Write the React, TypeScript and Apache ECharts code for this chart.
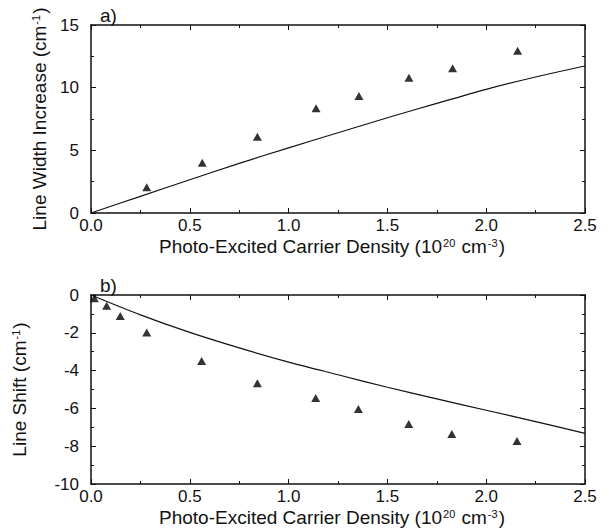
import React, { useEffect, useRef } from "react";
import * as echarts from "echarts";

// ---- Data ----
const xTickLabels = ["0.0", "0.5", "1.0", "1.5", "2.0", "2.5"];

// Panel a) Line width increase
const widthMeasX = [0.282, 0.563, 0.842, 1.139, 1.356, 1.609, 1.83, 2.159];
const widthMeasY = [2.05, 4.01, 6.09, 8.35, 9.34, 10.8, 11.55, 12.95];
const widthFitX = [0, 0.25, 0.5, 0.75, 1.0, 1.25, 1.5, 1.75, 2.0, 2.25, 2.5];
const widthFitY = [0, 1.33, 2.65, 3.96, 5.2, 6.4, 7.6, 8.75, 9.87, 10.85, 11.73];

// Panel b) Line shift
const shiftMeasX = [0.017, 0.079, 0.148, 0.282, 0.56, 0.842, 1.137, 1.353, 1.608, 1.826, 2.156];
const shiftMeasY = [-0.17, -0.57, -1.11, -1.98, -3.49, -4.67, -5.45, -6.03, -6.83, -7.35, -7.72];
const shiftFitX = [0, 0.25, 0.5, 0.75, 1.0, 1.25, 1.5, 1.75, 2.0, 2.25, 2.5];
const shiftFitY = [0, -1.05, -1.98, -2.8, -3.55, -4.22, -4.88, -5.5, -6.1, -6.7, -7.32];

const FONT = "'Liberation Sans', Arial, Helvetica, sans-serif";
const INK = "#111";

const pairs = (xs: number[], ys: number[]) => xs.map((x, i) => [x, ys[i]]);

const xTitle = "Photo-Excited Carrier Density (10{sup|20} cm{sup|-3})";

function titleStyle(padding: number[] = [0, 0, 0, 0]) {
  return {
    fontSize: 19,
    color: INK,
    fontFamily: FONT,
    padding,
    rich: {
      sup: { fontSize: 11, color: INK, fontFamily: FONT, verticalAlign: "top", padding: [0, 1, 0, 1] },
    },
  };
}

function xAxes(gridIndex: number) {
  const common = {
    type: "value",
    gridIndex,
    min: 0,
    max: 2.5,
    interval: 0.5,
    splitLine: { show: false },
    axisLine: { show: true, onZero: false, lineStyle: { color: INK, width: 1.5 } },
    axisTick: { show: true, inside: true, length: 5, lineStyle: { color: INK, width: 1 } },
    minorTick: { show: true, splitNumber: 2, length: 3, lineStyle: { color: INK, width: 1 } },
  };
  return [
    {
      ...common,
      position: "bottom",
      name: xTitle,
      nameLocation: "middle",
      nameGap: 24,
      nameTextStyle: titleStyle([0, 12, 0, 0]),
      axisLabel: {
        show: true,
        margin: 4,
        fontSize: 17,
        color: INK,
        fontFamily: FONT,
        formatter: (v: number) => xTickLabels[Math.round(v / 0.5)] ?? v.toFixed(1),
      },
    },
    { ...common, position: "top", axisLabel: { show: false } },
  ];
}

function yAxes(gridIndex: number, min: number, max: number, interval: number, name: string, nameGap: number) {
  const common = {
    type: "value",
    gridIndex,
    min,
    max,
    interval,
    splitLine: { show: false },
    axisLine: { show: true, onZero: false, lineStyle: { color: INK, width: 1.5 } },
    axisTick: { show: true, inside: true, length: 5, lineStyle: { color: INK, width: 1 } },
    minorTick: { show: true, splitNumber: 2, length: 3, lineStyle: { color: INK, width: 1 } },
  };
  return [
    {
      ...common,
      position: "left",
      name,
      nameLocation: "middle",
      nameGap,
      nameRotate: 90,
      nameTextStyle: titleStyle(),
      axisLabel: { show: true, margin: 12, fontSize: 17, color: INK, fontFamily: FONT },
    },
    { ...common, position: "right", axisLabel: { show: false } },
  ];
}

export default function App() {
  const ref = useRef<HTMLDivElement>(null);
  useEffect(() => {
    if (!ref.current) return;
    const chart = echarts.init(ref.current, null, { renderer: "svg" });
    const option: any = {
      animation: false,
      backgroundColor: "#fff",
      grid: [
        { left: 91, top: 25, width: 494, height: 188 },
        { left: 91, top: 295, width: 494, height: 189 },
      ],
      xAxis: [...xAxes(0), ...xAxes(1)],
      yAxis: [
        ...yAxes(0, 0, 15, 5, "Line Width Increase (cm{sup|-1})", 36),
        ...yAxes(1, -10, 0, 2, "Line Shift (cm{sup|-1})", 62),
      ],
      graphic: [
        { type: "text", left: 100, top: 6, style: { text: "a)", fontSize: 19, fill: INK, fontFamily: FONT } },
        { type: "text", left: 100, top: 276, style: { text: "b)", fontSize: 19, fill: INK, fontFamily: FONT } },
      ],
      series: [
        {
          type: "line",
          xAxisIndex: 0,
          yAxisIndex: 0,
          data: pairs(widthFitX, widthFitY),
          showSymbol: false,
          smooth: 0.3,
          lineStyle: { color: INK, width: 1.2 },
          z: 2,
        },
        {
          type: "scatter",
          xAxisIndex: 0,
          yAxisIndex: 0,
          data: pairs(widthMeasX, widthMeasY),
          symbol: "triangle",
          symbolSize: [9, 8],
          itemStyle: { color: "#000" },
          z: 3,
        },
        {
          type: "line",
          xAxisIndex: 2,
          yAxisIndex: 2,
          data: pairs(shiftFitX, shiftFitY),
          showSymbol: false,
          smooth: 0.3,
          lineStyle: { color: INK, width: 1.2 },
          z: 2,
        },
        {
          type: "scatter",
          xAxisIndex: 2,
          yAxisIndex: 2,
          data: pairs(shiftMeasX, shiftMeasY),
          symbol: "triangle",
          symbolSize: [9, 8],
          itemStyle: { color: "#000" },
          z: 3,
        },
      ],
    };
    chart.setOption(option);
    return () => chart.dispose();
  }, []);
  return (
    <div
      ref={ref}
      style={{ position: "fixed", left: 0, top: 0, width: 609, height: 532, background: "#fff" }}
    />
  );
}
